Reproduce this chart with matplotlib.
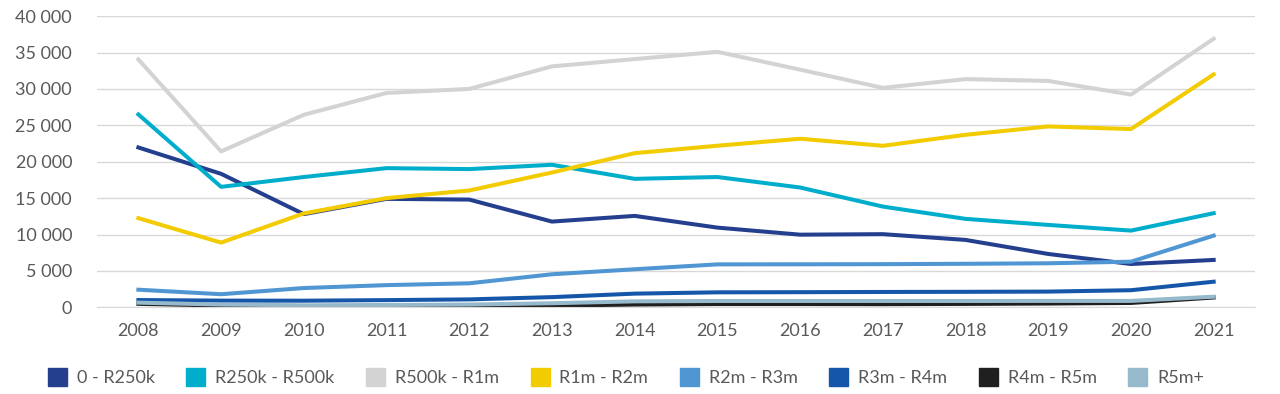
import matplotlib
matplotlib.use("Agg")
import matplotlib.pyplot as plt
from matplotlib.patches import Patch
from matplotlib.ticker import FuncFormatter

plt.rcParams['font.family'] = ['Lato', 'DejaVu Sans']

# donnees
annees = [2008, 2009, 2010, 2011, 2012, 2013, 2014, 2015, 2016, 2017, 2018, 2019, 2020, 2021]
tranches = ["0 - R250k", "R250k - R500k", "R500k - R1m", "R1m - R2m",
            "R2m - R3m", "R3m - R4m", "R4m - R5m", "R5m+"]

v_0_250k = [21960, 18340, 12800, 14900, 14800, 11780, 12560, 10950, 9980, 10050, 9260, 7330, 5950, 6510]
v_250k_500k = [26500, 16550, 17900, 19120, 18990, 19580, 17650, 17900, 16460, 13840, 12150, 11320, 10540, 12930]
v_500k_1m = [34050, 21420, 26450, 29450, 30000, 33100, 34100, 35100, 32650, 30150, 31350, 31100, 29230, 36900]
v_1m_2m = [12250, 8890, 12900, 15000, 16050, 18520, 21180, 22200, 23160, 22190, 23700, 24850, 24490, 32000]
v_2m_3m = [2420, 1800, 2650, 3050, 3300, 4540, 5230, 5900, 5910, 5930, 5980, 6050, 6270, 9850]
v_3m_4m = [1000, 920, 910, 990, 1090, 1400, 1880, 2060, 2080, 2110, 2130, 2160, 2350, 3520]
v_4m_5m = [480, 250, 150, 150, 170, 230, 380, 450, 450, 430, 470, 520, 600, 1350]
v_5m_plus = [640, 380, 280, 320, 380, 560, 820, 870, 870, 870, 870, 880, 880, 1460]

series = [v_0_250k, v_250k_500k, v_500k_1m, v_1m_2m, v_2m_3m, v_3m_4m, v_4m_5m, v_5m_plus]
couleurs = ["#253F8F", "#00AECC", "#D3D3D3", "#F2CC00",
            "#5096D3", "#1656A9", "#1F1F1F", "#97B9CC"]

fig = plt.figure(figsize=(12.8, 3.94), dpi=100)
ax = fig.add_axes([0.0758, 0.22, 0.9047, 0.739])

x = list(range(len(annees)))
for vals, coul in zip(series, couleurs):
    ax.plot(x, vals, "-", color=coul, lw=2.9, solid_joinstyle="round")

ax.set_xlim(-0.5, len(annees) - 0.5)
ax.set_ylim(0, 40000)
ax.set_yticks(range(0, 40001, 5000))
ax.yaxis.set_major_formatter(FuncFormatter(lambda v, p: "{:,}".format(int(v)).replace(",", " ")))
ax.set_xticks(x)
ax.set_xticklabels([str(a) for a in annees])

ax.grid(True, axis="y", color="#D9D9D9", lw=1)
ax.set_axisbelow(True)
for s in ["top", "right", "left"]:
    ax.spines[s].set_visible(False)
ax.spines["bottom"].set_color("#D9D9D9")
ax.tick_params(length=0, labelsize=13, colors="#595959")
ax.tick_params(axis="x", pad=11)
ax.tick_params(axis="y", pad=18)

poignees = [Patch(facecolor=c, edgecolor=c) for c in couleurs]
leg = fig.legend(poignees, tranches, loc="center", bbox_to_anchor=(0.489, 0.043),
                 ncol=8, frameon=False, fontsize=13, handlelength=1.05,
                 handleheight=1.2, handletextpad=0.55, columnspacing=1.75)
for t in leg.get_texts():
    t.set_color("#595959")

fig.savefig("out.png", dpi=100)
